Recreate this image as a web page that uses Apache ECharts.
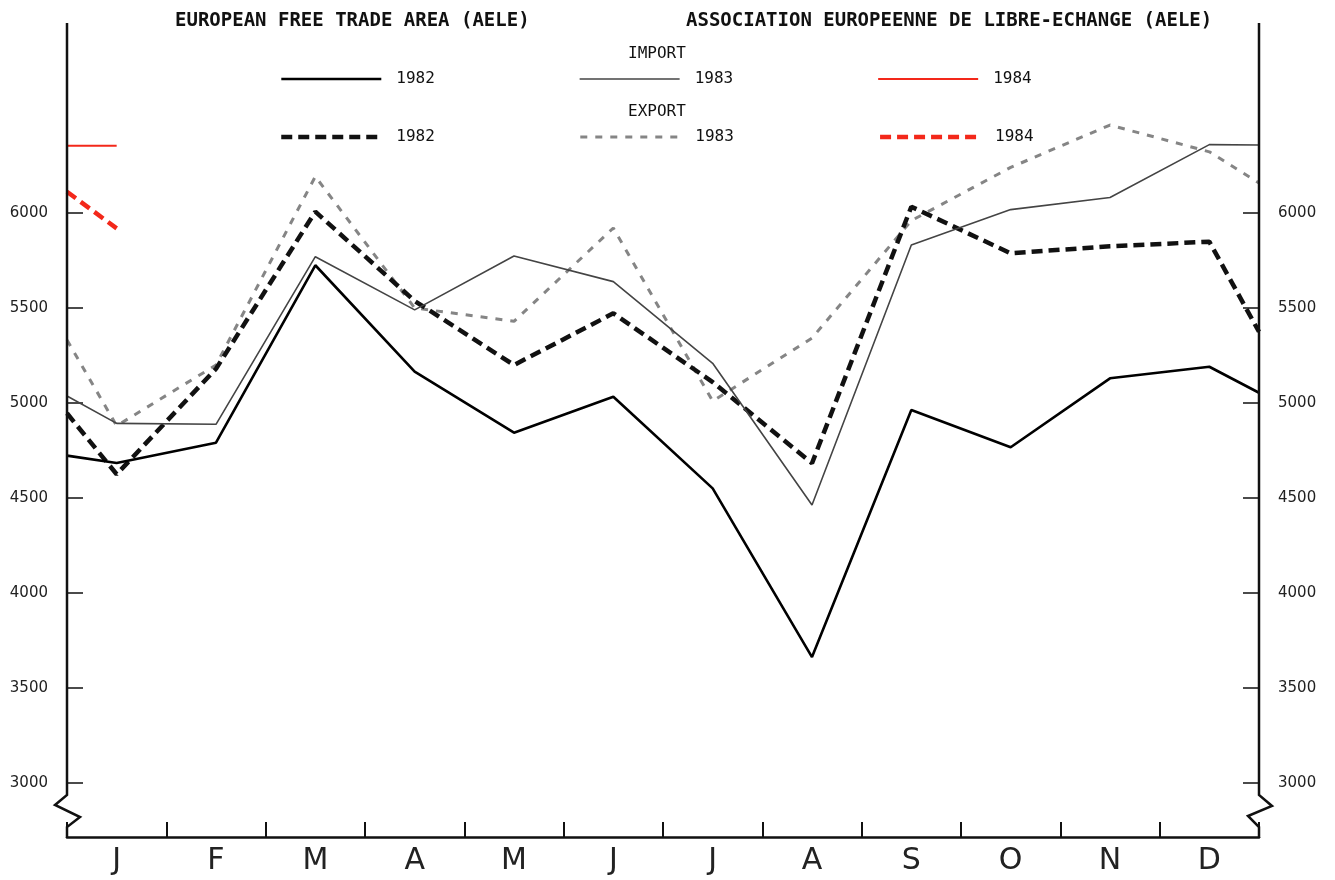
<!DOCTYPE html>
<html>
<head>
<meta charset="utf-8">
<script src="https://cdn.jsdelivr.net/npm/echarts@6/dist/echarts.min.js"></script>
<style>
html,body{margin:0;padding:0;background:#fff;}
#chart{width:1335px;height:880px;}
</style>
</head>
<body>
<div id="chart"></div>
<script>
// Month labels (categories)
const months = ['J','F','M','A','M','J','J','A','S','O','N','D'];
// Y tick labels
const yTicks = [3000, 3500, 4000, 4500, 5000, 5500, 6000];
// Values: [start edge, J..D, end edge]
const import1982 = [4723, 4684, 4791, 5725, 5165, 4844, 5033, 4551, 3663, 4963, 4767, 5130, 5191, 5054];
const import1983 = [5037, 4893, 4888, 5770, 5490, 5774, 5639, 5209, 4463, 5832, 6018, 6082, 6360, 6358];
const import1984 = [6354, 6354];
const export1982 = [4946, 4625, 5180, 6007, 5537, 5200, 5472, 5110, 4683, 6033, 5788, 5825, 5849, 5375];
const export1983 = [5332, 4880, 5200, 6192, 5500, 5430, 5921, 5010, 5342, 5960, 6240, 6463, 6322, 6158];
const export1984 = [6112, 5919];

const Y_MIN = 2716, Y_MAX = 7000;

function toXY(arr) {
  // index 0 = left edge, 1..12 = month centres, 13 = right edge
  return arr.map((v, i) => [i === 0 ? 0 : (i === 13 ? 12 : i - 0.5), v]);
}

const chart = echarts.init(document.getElementById('chart'));
const mono = 'DejaVu Sans Mono';

const styles = {
  'Import 1982': {color: '#000', width: 2.6, type: 'solid'},
  'Import 1983': {color: '#444', width: 1.6, type: 'solid'},
  'Import 1984': {color: '#f3281a', width: 2, type: 'solid'},
  'Export 1982': {color: '#111', width: 4.5, type: [11, 6]},
  'Export 1983': {color: '#858585', width: 3, type: [7, 8]},
  'Export 1984': {color: '#f3281a', width: 4.5, type: [11, 6]}
};

const yAxisBase = {
  type: 'value', min: Y_MIN, max: Y_MAX,
  axisLine: {show: false},
  splitLine: {show: false},
  axisTick: {show: true, inside: true, length: 16, customValues: yTicks, lineStyle: {color: '#111', width: 1.5}},
  axisLabel: {customValues: yTicks, formatter: v => String(v), fontFamily: 'DejaVu Sans', fontSize: 15, color: '#222', margin: 19}
};

const legendBase = {
  itemWidth: 100, itemHeight: 14, selectedMode: false, padding: 0,
  formatter: n => n.split(' ')[1],
  itemStyle: {opacity: 0},
  textStyle: {fontFamily: mono, fontSize: 16, color: '#111', padding: [0, 0, 0, 10]}
};
function legendItems(names) {
  return names.map(n => ({name: n, lineStyle: Object.assign({}, styles[n]), itemStyle: {opacity: 0}}));
}

function line(name, data, z) {
  return {name: name, type: 'line', xAxisIndex: 1, yAxisIndex: 0, symbol: 'none',
    data: toXY(data), lineStyle: Object.assign({}, styles[name]), itemStyle: {color: styles[name].color}, z: z};
}

const option = {
  backgroundColor: '#fff',
  animation: false,
  title: [
    {text: 'EUROPEAN FREE TRADE AREA (AELE)', left: 170, top: 7,
     textStyle: {fontFamily: mono, fontWeight: 'bold', fontSize: 19, color: '#111'}},
    {text: 'ASSOCIATION EUROPEENNE DE LIBRE-ECHANGE (AELE)', left: 681, top: 7,
     textStyle: {fontFamily: mono, fontWeight: 'bold', fontSize: 19, color: '#111'}},
    {text: 'IMPORT', left: 623, top: 41,
     textStyle: {fontFamily: mono, fontWeight: 'normal', fontSize: 16, color: '#111'}},
    {text: 'EXPORT', left: 623, top: 99,
     textStyle: {fontFamily: mono, fontWeight: 'normal', fontSize: 16, color: '#111'}}
  ],
  legend: [
    Object.assign({data: legendItems(['Import 1982', 'Import 1983', 'Import 1984']), left: 280, top: 71, itemGap: 144}, legendBase),
    Object.assign({data: legendItems(['Export 1982', 'Export 1983', 'Export 1984']), left: 279, top: 129, itemGap: 144}, legendBase)
  ],
  grid: {left: 67, right: 76, top: 23, bottom: 43, containLabel: false},
  xAxis: [
    {type: 'category', data: months, boundaryGap: true, position: 'bottom',
     axisLine: {show: true, lineStyle: {color: '#111', width: 2.5}},
     axisTick: {show: true, inside: true, length: 15, alignWithLabel: false, lineStyle: {color: '#111', width: 2}},
     axisLabel: {fontFamily: 'DejaVu Sans', fontSize: 30, color: '#222', margin: 9},
     splitLine: {show: false}},
    {type: 'value', min: 0, max: 12, show: false}
  ],
  yAxis: [
    Object.assign({position: 'left'}, yAxisBase),
    Object.assign({position: 'right'}, yAxisBase)
  ],
  series: [
    line('Import 1982', import1982, 5),
    line('Import 1983', import1983, 4),
    line('Import 1984', import1984, 4),
    line('Export 1982', export1982, 3),
    line('Export 1983', export1983, 2),
    line('Export 1984', export1984, 3)
  ]
};

chart.setOption(option);

// Broken vertical axes drawn from the axis scale
const xl = chart.convertToPixel({xAxisIndex: 1}, 0);
const xr = chart.convertToPixel({xAxisIndex: 1}, 12);
const yt = chart.convertToPixel({yAxisIndex: 0}, Y_MAX);
const yb = chart.convertToPixel({yAxisIndex: 0}, Y_MIN);
const axStyle = {stroke: '#111', lineWidth: 2.5, fill: null};
chart.setOption({
  graphic: [
    {type: 'polyline', z: 100, shape: {points: [[xl, yt], [xl, yb - 42], [xl - 12, yb - 32], [xl + 13, yb - 20], [xl, yb - 10], [xl, yb + 1]]}, style: axStyle},
    {type: 'polyline', z: 100, shape: {points: [[xr, yt], [xr, yb - 42], [xr + 13, yb - 31], [xr - 11, yb - 21], [xr, yb - 10], [xr, yb + 1]]}, style: axStyle}
  ]
});
</script>
</body>
</html>
